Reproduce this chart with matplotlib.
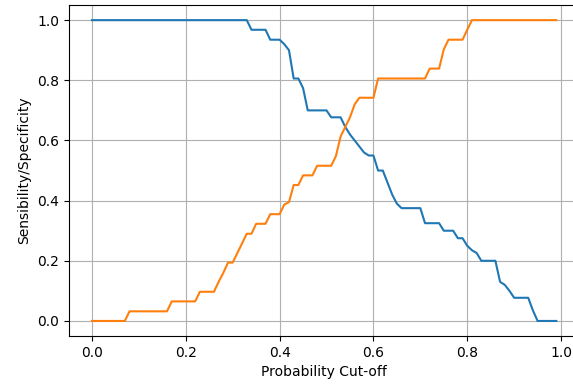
import numpy as np
import matplotlib
matplotlib.use("Agg")
import matplotlib.pyplot as plt

# probability cut-offs 0.00 .. 0.99
cutoffs = np.arange(100) / 100

# sensitivity (blue)
sensitivity = (
    [1.0] * 34
    + [0.968] * 4
    + [0.935] * 3
    + [0.92, 0.90, 0.806, 0.806, 0.774]
    + [0.70] * 5
    + [0.677] * 3
    + [0.645, 0.62, 0.60, 0.58, 0.56, 0.55, 0.55, 0.50, 0.50, 0.46, 0.42, 0.39]
    + [0.375] * 5
    + [0.325] * 4
    + [0.30] * 3
    + [0.275] * 2
    + [0.25, 0.235, 0.226, 0.20, 0.20, 0.20, 0.20, 0.13, 0.12, 0.10]
    + [0.077] * 4
    + [0.035]
    + [0.0] * 5
)

# specificity (orange)
specificity = (
    [0.0] * 8
    + [0.032] * 9
    + [0.065] * 6
    + [0.097] * 4
    + [0.13, 0.16, 0.194, 0.194, 0.226, 0.258, 0.29, 0.29]
    + [0.323] * 3
    + [0.355] * 3
    + [0.387, 0.395, 0.452, 0.452, 0.484, 0.484, 0.484]
    + [0.516] * 4
    + [0.548, 0.613, 0.645, 0.677, 0.72]
    + [0.742] * 4
    + [0.806] * 11
    + [0.839] * 3
    + [0.903]
    + [0.935] * 4
    + [0.968]
    + [1.0] * 19
)

fig = plt.figure(figsize=(5.73, 3.87), dpi=100)
ax = fig.add_axes([0.120, 0.1318, 0.8915, 0.855])

ax.plot(cutoffs, sensitivity)
ax.plot(cutoffs, specificity)

ax.set_xlabel("Probability Cut-off")
ax.set_ylabel("Sensibility/Specificity")
ax.grid(True)

plt.savefig("out.png", dpi=100)
plt.close()
